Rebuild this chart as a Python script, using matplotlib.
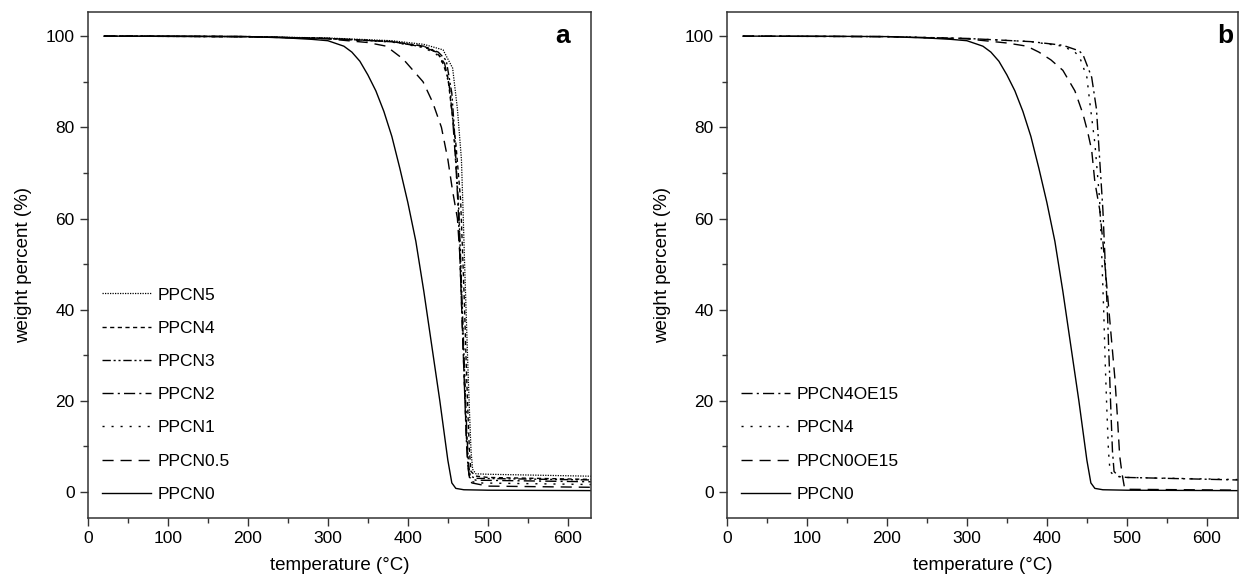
import matplotlib
matplotlib.use('Agg')
import matplotlib.pyplot as plt
from matplotlib.ticker import MultipleLocator

plt.rcParams['font.family'] = ['Liberation Sans', 'DejaVu Sans']

# TGA curves (temperature in degC, weight in %)
t_ppcn0 = [20, 100, 200, 250, 280, 300, 320, 330, 340, 350, 360, 370, 380, 390, 400, 410, 420, 430, 440, 445, 450, 455, 460, 470, 500, 650]
w_ppcn0 = [100, 100, 99.9, 99.6, 99.3, 99.0, 97.8, 96.5, 94.5, 91.5, 88, 83.5, 78, 71, 63.5, 55, 44, 32, 20, 13.5, 7, 2, 0.8, 0.5, 0.4, 0.3]

t_ppcn05 = [20, 200, 300, 350, 373, 394, 419, 431, 442, 450, 456, 462, 465, 467, 469, 471, 473, 475, 477, 480, 500, 650]
w_ppcn05 = [100, 99.9, 99.4, 98.6, 97.8, 95, 90, 85.5, 80, 73, 66, 60, 52, 42, 32, 22, 13, 6, 3, 2, 1.3, 1.0]

t_ppcn1 = [20, 200, 300, 380, 420, 436, 446, 453, 457, 461, 464, 466, 468, 470, 472, 474, 476, 478, 485, 650]
w_ppcn1 = [100, 99.9, 99.5, 98.7, 97.5, 96, 93.5, 88, 80, 69, 60, 50, 40, 30, 20, 11, 5, 2.5, 2.0, 1.6]

t_ppcn2 = [20, 200, 300, 380, 420, 436, 446, 452, 456, 460, 463, 465, 467, 469, 471, 473, 475, 477, 485, 650]
w_ppcn2 = [100, 99.9, 99.5, 98.8, 97.6, 96.5, 94, 89, 82, 72, 62, 52, 42, 32, 22, 12, 6, 3.2, 2.6, 2.2]

t_ppcn3 = [20, 200, 300, 380, 420, 438, 448, 455, 458, 461, 464, 466, 468, 470, 472, 474, 476, 478, 485, 650]
w_ppcn3 = [100, 99.9, 99.5, 98.8, 97.8, 96.5, 94.7, 87.5, 80, 70, 61, 51, 41, 31, 21, 12, 6, 3.5, 3.0, 2.6]

t_ppcn4 = [20, 200, 300, 380, 420, 435, 441, 450, 454, 460, 466, 469, 471, 473, 475, 477, 479, 485, 500, 650]
w_ppcn4 = [100, 99.9, 99.5, 98.8, 97.8, 96.5, 95.4, 91, 85, 76.5, 64, 50, 40, 28, 18, 9, 4.5, 3.5, 3.2, 2.7]

t_ppcn5 = [20, 200, 300, 380, 420, 444, 456, 462, 467, 469, 471, 473, 475, 477, 479, 481, 485, 500, 650]
w_ppcn5 = [100, 99.9, 99.6, 99.0, 98.2, 97, 93, 84, 73, 62, 50, 39, 28, 18, 9, 5, 4.0, 3.9, 3.4]

t_ppcn0oe15 = [20, 200, 300, 350, 375, 390, 405, 420, 435, 445, 451, 456, 460, 466, 470, 475, 480, 485, 488, 491, 494, 497, 500, 650]
w_ppcn0oe15 = [100, 99.9, 99.4, 98.5, 97.8, 96.5, 94.8, 92.5, 88, 83, 79, 75, 68, 62, 55, 45, 35, 25, 17, 8, 4, 1, 0.6, 0.4]

t_ppcn4oe15 = [20, 200, 300, 380, 420, 440, 445, 456, 462, 466, 470, 473, 476, 478, 480, 482, 484, 490, 500, 650]
w_ppcn4oe15 = [100, 99.9, 99.5, 98.8, 98, 96.8, 96, 91, 84, 73, 62, 50, 38, 28, 18, 9, 4.5, 3.4, 3.2, 2.6]

fig = plt.figure(figsize=(12.41, 5.85), dpi=100)
ax_a = fig.add_axes([0.0709, 0.1145, 0.4053, 0.865])
ax_b = fig.add_axes([0.5858, 0.1145, 0.4118, 0.865])

########## Panel a ##########
ax_a.plot(t_ppcn5, w_ppcn5, color='k', lw=0.9, ls=(0, (1, 1)), label='PPCN5')
ax_a.plot(t_ppcn4, w_ppcn4, color='k', lw=1.0, ls=(0, (3, 2.5)), label='PPCN4')
ax_a.plot(t_ppcn3, w_ppcn3, color='k', lw=1.0, ls=(0, (6, 2, 1.5, 2, 1.5, 2)), label='PPCN3')
ax_a.plot(t_ppcn2, w_ppcn2, color='k', lw=1.0, ls=(0, (8, 3, 1.5, 3)), label='PPCN2')
ax_a.plot(t_ppcn1, w_ppcn1, color='k', lw=1.0, ls=(0, (1.5, 5)), label='PPCN1')
ax_a.plot(t_ppcn05, w_ppcn05, color='k', lw=1.0, ls=(0, (8, 5)), label='PPCN0.5')
ax_a.plot(t_ppcn0, w_ppcn0, color='k', lw=1.0, ls='-', label='PPCN0')

########## Panel b ##########
ax_b.plot(t_ppcn4oe15, w_ppcn4oe15, color='k', lw=1.0, ls=(0, (8, 3, 1.5, 3)), label='PPCN4OE15')
ax_b.plot(t_ppcn4, w_ppcn4, color='k', lw=1.0, ls=(0, (1.5, 5)), label='PPCN4')
ax_b.plot(t_ppcn0oe15, w_ppcn0oe15, color='k', lw=1.0, ls=(0, (8, 5)), label='PPCN0OE15')
ax_b.plot(t_ppcn0, w_ppcn0, color='k', lw=1.0, ls='-', label='PPCN0')

# Common axis styling
for ax, xmax in [(ax_a, 629), (ax_b, 639)]:
    ax.set_xlim(0, xmax)
    ax.set_ylim(-5.7, 105.3)
    ax.xaxis.set_major_locator(MultipleLocator(100))
    ax.xaxis.set_minor_locator(MultipleLocator(50))
    ax.yaxis.set_major_locator(MultipleLocator(20))
    ax.yaxis.set_minor_locator(MultipleLocator(10))
    ax.tick_params(which='both', direction='out', top=False, right=False, labelsize=12.5, color='#333333')
    ax.tick_params(which='major', length=6, width=1)
    ax.tick_params(which='minor', length=3.5, width=1)
    for sp in ax.spines.values():
        sp.set_linewidth(1.1)
        sp.set_color('#333333')
    ax.set_xlabel('temperature (°C)', fontsize=13.5, labelpad=8)
    ax.set_ylabel('weight percent (%)', fontsize=13.5, labelpad=10)
    ax.legend(loc='lower left', bbox_to_anchor=(0.028, 0.032), frameon=False, fontsize=12.5,
              handlelength=2.8, handletextpad=0.4, labelspacing=1.04, borderpad=0, borderaxespad=0)

ax_a.text(0.944, 0.953, 'a', transform=ax_a.transAxes, fontsize=19, fontweight='bold', ha='center', va='center')
ax_b.text(0.975, 0.953, 'b', transform=ax_b.transAxes, fontsize=19, fontweight='bold', ha='center', va='center')

plt.savefig('out.png', dpi=100)
